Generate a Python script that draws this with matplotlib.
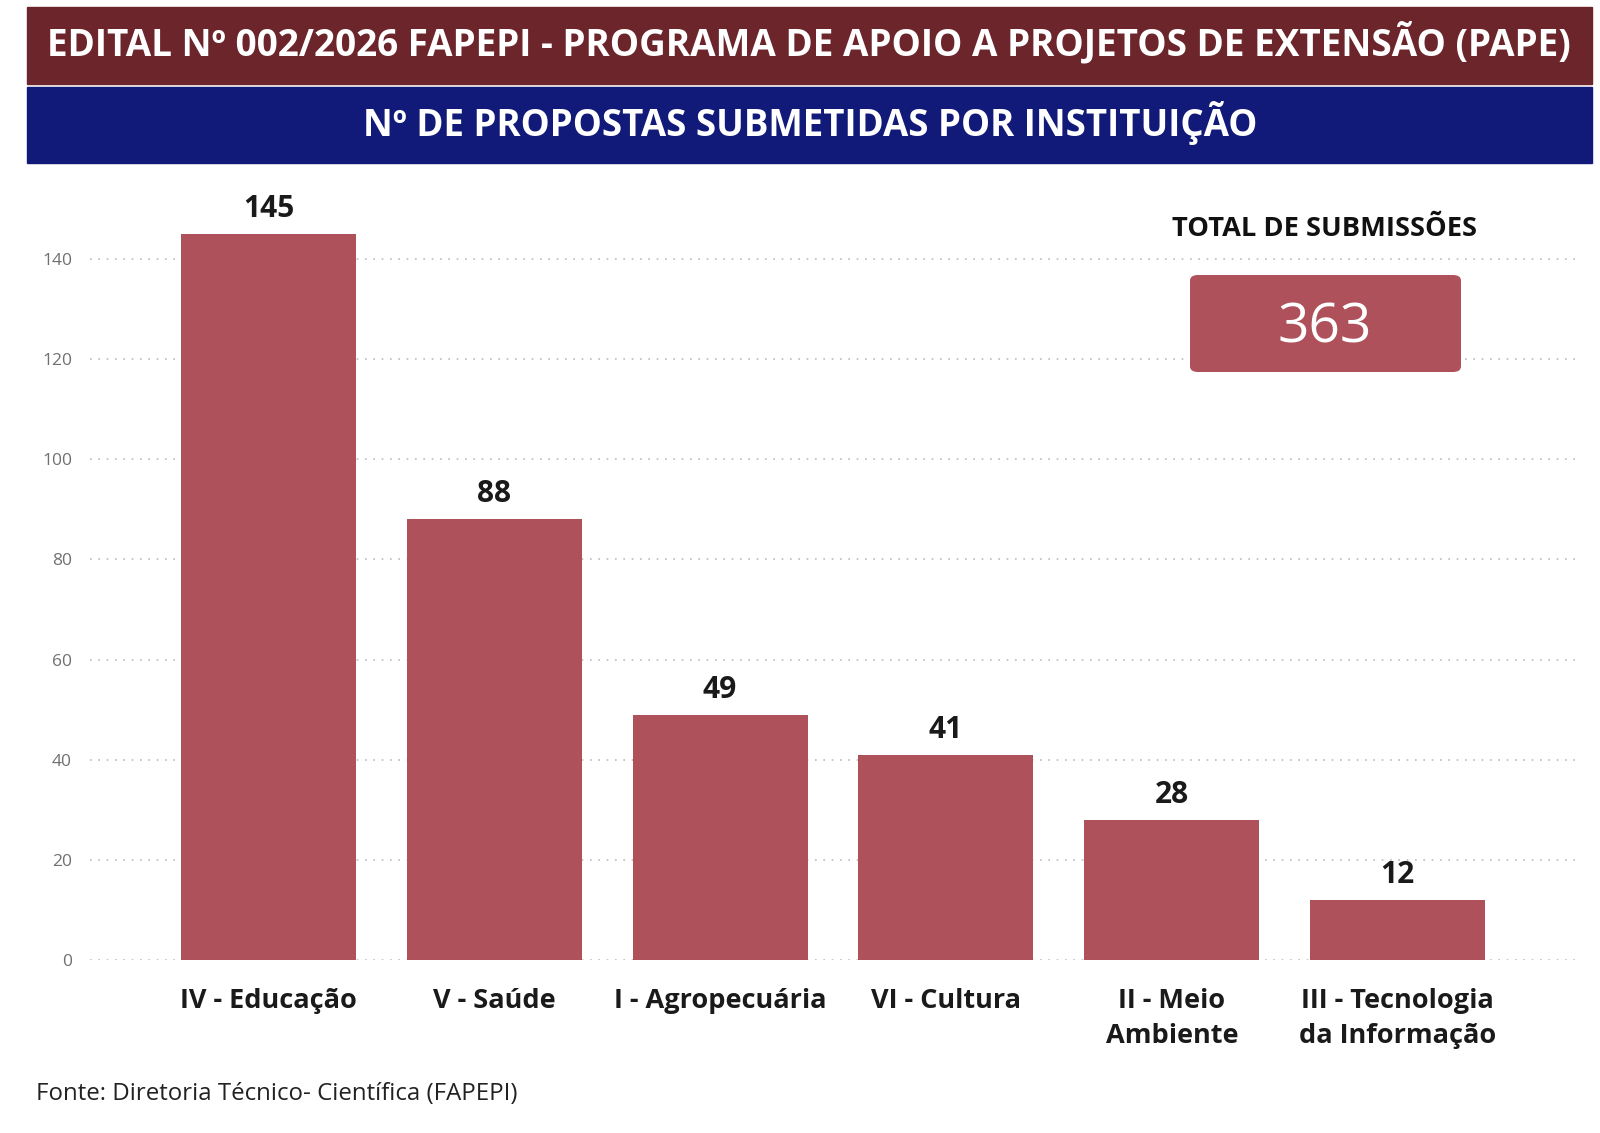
import matplotlib.pyplot as plt
from matplotlib.patches import Rectangle, FancyBboxPatch
import numpy as np

plt.rcParams['font.family'] = ['Open Sans', 'DejaVu Sans']

categories = ['IV - Educação', 'V - Saúde', 'I - Agropecuária', 'VI - Cultura',
              'II - Meio\nAmbiente', 'III - Tecnologia\nda Informação']
values = [145, 88, 49, 41, 28, 12]
total = 363
yticks = [0, 20, 40, 60, 80, 100, 120, 140]

title1 = 'EDITAL Nº 002/2026 FAPEPI - PROGRAMA DE APOIO A PROJETOS DE EXTENSÃO (PAPE)'
title2 = 'Nº DE PROPOSTAS SUBMETIDAS POR INSTITUIÇÃO'
source = 'Fonte: Diretoria Técnico- Científica (FAPEPI)'

bar_color = '#AE515A'
W, H = 1600, 1133
fig = plt.figure(figsize=(16, 11.33), dpi=100)

# header bands (pixel coords converted to figure fraction)
def band(x0, y0, x1, y1, color):
    fig.patches.append(Rectangle((x0 / W, 1 - y1 / H), (x1 - x0) / W, (y1 - y0) / H,
                                 transform=fig.transFigure, color=color, zorder=0))

band(26.5, 7, 1592, 84, '#6B252B')
band(26.5, 87, 1592, 163, '#111A78')
fig.text(809 / W, 1 - 43 / H, title1, color='white', fontsize=26.6, fontweight='bold',
         ha='center', va='center')
fig.text(810 / W, 1 - 123 / H, title2, color='white', fontsize=26.4, fontweight='bold',
         ha='center', va='center')

ax = fig.add_axes([90 / W, 1 - 960 / H, (1576 - 90) / W, (960 - 209) / H])
x = np.arange(len(values))
ax.bar(x, values, width=0.775, color=bar_color, zorder=2)
for xi, v in zip(x, values):
    ax.text(xi, v + 2, str(v), ha='center', va='bottom', fontsize=21.5,
            fontweight='bold', color='#1a1a1a')

ax.set_xlim(-0.79, 5.79)
ax.set_ylim(0, 150)
ax.set_yticks(yticks)
ax.set_xticks(x)
ax.set_xticklabels(categories, fontsize=19.5, fontweight='bold', color='#1a1a1a',
                   linespacing=1.45, va='top')
ax.tick_params(axis='x', length=0, pad=20)
ax.tick_params(axis='y', length=0, pad=13, labelsize=12.5, labelcolor='#707070')
ax.yaxis.grid(True, linestyle=(0, (1, 4)), color='#bbbbbb', linewidth=1.2, zorder=0)
for s in ax.spines.values():
    s.set_visible(False)

# total box
fig.text(1325 / W, 1 - 229 / H, 'TOTAL DE SUBMISSÕES', fontsize=19.6, fontweight='bold',
         ha='center', va='center', color='#111111')
box = FancyBboxPatch((1190 / W, 1 - 372 / H), (1461 - 1190) / W, (372 - 275) / H,
                     boxstyle='round,pad=0,rounding_size=0.005',
                     transform=fig.transFigure, facecolor=bar_color, edgecolor='none',
                     zorder=5)
fig.patches.append(box)
fig.text(1325 / W, 1 - 328 / H, str(total), fontsize=39.5, color='white',
         ha='center', va='center', zorder=6)

fig.text(36 / W, 1 - 1094 / H, source, fontsize=17.3, color='#222222',
         ha='left', va='center')

fig.savefig('out.png', dpi=100)
